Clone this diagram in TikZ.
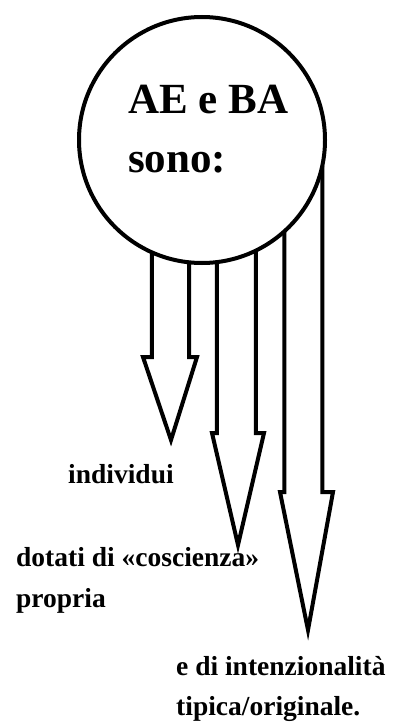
\documentclass[tikz,border=0pt]{standalone}
\usepackage{fontspec}
\setmainfont{Liberation Serif}
\begin{document}
\begin{tikzpicture}[x=1pt,y=-1pt,
  ring/.style={draw,circle,line width=4pt,minimum size=246pt,inner sep=0pt,outer sep=0pt},
  arrowline/.style={draw,line width=4pt,line join=miter,miter limit=20},
  bigtxt/.style={anchor=base west,inner sep=0pt,font=\bfseries\fontsize{43}{50}\selectfont},
  smalltxt/.style={anchor=base west,inner sep=0pt,font=\bfseries\fontsize{27.5}{32}\selectfont}]
\useasboundingbox (0,0) rectangle (392,725);
\node[ring] (c) at (202,140) {};
\node[bigtxt] (t1) at (128,113) {AE e BA};
\node[bigtxt] (t2) at (128,172) {sono:};
% arrow 1
\coordinate (h1l) at (143,357);
\coordinate (h1r) at (197,357);
\coordinate (p1) at (171,440);
\draw[arrowline] (c.-114.6) -- (c.-114.6 |- h1l) -- (h1l) -- (p1) -- (h1r) -- (c.-96.4 |- h1r) -- (c.-96.4);
% arrow 2
\coordinate (h2l) at (212,433);
\coordinate (h2r) at (264,433);
\coordinate (p2) at (238,545);
\draw[arrowline] (c.-83.1) -- (c.-83.1 |- h2l) -- (h2l) -- (p2) -- (h2r) -- (c.-64.4 |- h2r) -- (c.-64.4);
% arrow 3
\coordinate (h3l) at (280,492);
\coordinate (h3r) at (333,492);
\coordinate (p3) at (308,630);
\draw[arrowline] (c.-48.4) -- (c.-48.4 |- h3l) -- (h3l) -- (p3) -- (h3r) -- (c.-12.6 |- h3r) -- (c.-12.6);
\node[smalltxt] (l1) at (68,483) {individui};
\node[smalltxt] (l2) at (16,566) {dotati di «coscienza»};
\node[smalltxt] (l3) at (16,607) {propria};
\node[smalltxt] (l4) at (176,675) {e di intenzionalità};
\node[smalltxt] (l5) at (176,715) {tipica/originale.};
\end{tikzpicture}
\end{document}
